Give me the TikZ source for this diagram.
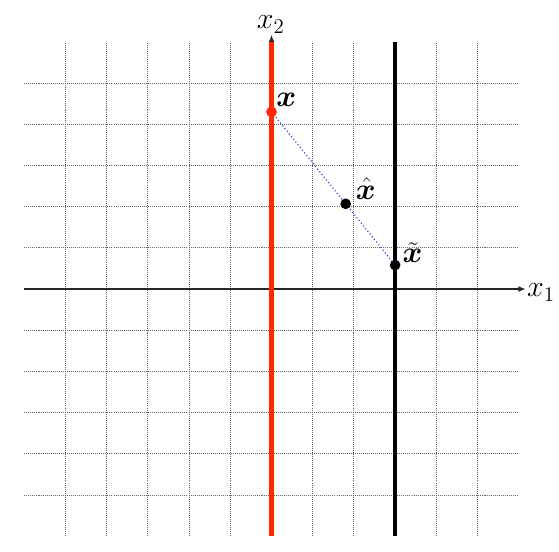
\documentclass[tikz,border=0pt]{standalone}
\usepackage{amsmath}
\usepackage{bm}
\usetikzlibrary{arrows.meta,calc}
\definecolor{redline}{RGB}{255,40,0}
\definecolor{blueline}{RGB}{40,70,230}
\tikzset{
  gridline/.style={black!60, line width=0.6pt, dash pattern=on 0.7pt off 0.7pt},
  axis/.style={black!85, line width=0.8pt, -{Latex[length=5pt,width=4pt]}},
  thickline/.style={line width=2.8pt},
  dot/.style={circle, inner sep=0pt, minimum size=7.4pt},
  ptlabel/.style={inner sep=0pt, font=\fontsize{22}{22}\selectfont},
  axlabel/.style={inner sep=0pt, font=\fontsize{21}{21}\selectfont},
}
\begin{document}
\begin{tikzpicture}
\useasboundingbox (-6.59,-6.359) rectangle (6.978,7.015);
% grid
\foreach \y in {-5,...,-1,1,2,3,4,5} \draw[gridline] (-6,\y) -- (6,\y);
\foreach \x in {-5,...,-1,1,2,4,5} \draw[gridline] (\x,-6) -- (\x,6);
% axes
\coordinate (x1s) at (-6,0);
\coordinate (x1e) at (6.17,0);
\coordinate (x2s) at (0,-6);
\coordinate (x2e) at (0,6.17);
\draw[axis] (x1s) -- (x1e);
\draw[axis] (x2s) -- (x2e);
\node[axlabel, anchor=west] (lx1) at (6.2,-0.08) {$x_1$};
\node[axlabel, anchor=south] (lx2) at (-0.02,6.2) {$x_2$};
% thick lines
\coordinate (rb) at (0,-6);
\coordinate (rt) at (0,6);
\coordinate (bb) at (3,-6);
\coordinate (bt) at (3,6);
\draw[thickline, redline] (rb) -- (rt);
\draw[thickline, black] (bb) -- (bt);
% points
\coordinate (x) at (0,4.30);
\coordinate (xt) at (3,0.58);
\coordinate (xh) at ($(x)!0.6!(xt)$);
\draw[blueline, line width=0.8pt, dash pattern=on 0.8pt off 1.6pt] (x) -- (xt);
\node[dot, fill=redline] (px) at (x) {};
\node[dot, fill=black] (pxh) at (xh) {};
\node[dot, fill=black] (pxt) at (xt) {};
\node[ptlabel] (lx) at (0.36,4.60) {$\bm{x}$};
\node[ptlabel] (lxh) at (2.29,2.44) {$\hat{\bm{x}}$};
\node[ptlabel] (lxt) at (3.42,0.88) {$\tilde{\bm{x}}$};
\end{tikzpicture}
\end{document}
